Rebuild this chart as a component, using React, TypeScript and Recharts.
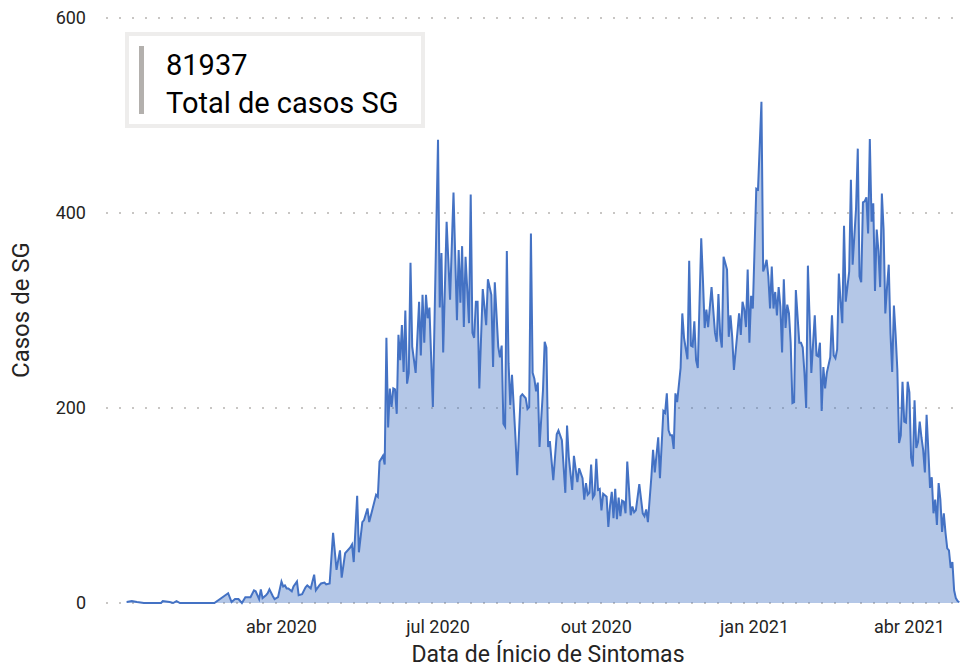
import React from 'react';
import { AreaChart, Area, XAxis, YAxis, CartesianGrid } from 'recharts';

// dias contados a partir de 1 abr 2020
const dias = [
  -90, -87, -84, -80, -70, -69, -65, -63, -61, -59,
  -39, -31, -29, -27, -25, -23, -21, -18, -16, -15,
  -13, -12, -11, -9, -8, -7, -5, -4, -2,
  0, 1, 2, 3, 4, 6, 7, 9, 10, 12,
  14, 15, 17, 19, 20, 22, 23, 25, 26, 28,
  30, 32, 34, 35, 37, 40, 41, 42, 44, 45,
  47, 48, 50, 51, 53, 55, 56, 57, 59, 60,
  61, 62, 63, 64, 65, 66, 67, 68, 69, 70,
  71, 72, 73, 74, 75, 76, 78, 80, 81, 82,
  83, 84, 85, 86, 88, 91, 92, 93, 94, 96,
  98, 100, 102, 103, 104, 105, 106, 107, 109, 110,
  111, 112, 113, 114, 115, 117, 119, 120, 122, 123,
  124, 126, 127, 128, 129, 130, 131, 132, 133, 134,
  136, 137, 139, 140, 142, 143, 144, 145, 146, 147,
  148, 149, 150, 152, 153, 154, 155, 156, 158, 160,
  161, 163, 165, 166, 167, 169, 170, 172, 173, 175,
  176, 177, 178, 179, 180, 181, 182, 183, 184, 185,
  186, 187, 189, 190, 191, 192, 193, 194, 195, 196,
  197, 198, 199, 200, 201, 203, 204, 205, 206, 208,
  210, 211, 212, 213, 215, 216, 217, 219, 220, 222,
  223, 224, 225, 226, 227, 228, 229, 230, 232, 233,
  234, 236, 237, 238, 239, 240, 241, 242, 244, 245,
  246, 247, 248, 250, 252, 253, 254, 255, 256, 257,
  259, 260, 261, 262, 263, 265, 266, 267, 268, 269,
  270, 271, 272, 273, 274, 276, 277, 279, 280, 281,
  282, 283, 284, 285, 286, 287, 288, 289, 290, 291,
  292, 293, 294, 295, 296, 297, 298, 299, 301, 302,
  303, 304, 305, 306, 308, 310, 311, 312, 313, 314,
  315, 316, 317, 319, 320, 321, 322, 323, 324, 325,
  326, 327, 328, 330, 331, 332, 334, 335, 336, 337,
  338, 339, 340, 341, 342, 343, 344, 345, 346, 347,
  348, 349, 350, 351, 352, 353, 354, 355, 356, 357,
  358, 359, 360, 361, 362, 363, 364, 365, 366, 367,
  368, 369, 370, 371, 372, 373, 374, 375, 376, 377,
  378, 379, 380, 381, 382, 383, 384, 385, 386, 387,
  388, 389, 390, 391, 392, 393, 394,
];

const casos = [
  1, 2, 1, 0, 0, 2, 1, 0, 2, 0,
  0, 10, 1, 4, 4, 0, 6, 6, 13, 12,
  4, 14, 5, 8, 10, 14, 7, 4, 6,
  22, 17, 18, 15, 15, 12, 17, 22, 8, 9,
  16, 18, 15, 29, 13, 18, 20, 21, 19, 20,
  72, 34, 54, 26, 51, 57, 60, 42, 110, 52,
  83, 85, 97, 83, 97, 111, 109, 145, 151, 142,
  272, 180, 220, 201, 220, 219, 194, 275, 249, 285,
  237, 300, 225, 236, 349, 263, 236, 309, 254, 316,
  267, 316, 292, 303, 201, 475, 303, 359, 257, 391,
  311, 421, 290, 362, 308, 366, 283, 355, 287, 419,
  277, 272, 309, 309, 220, 322, 285, 332, 316, 242,
  329, 263, 252, 264, 184, 181, 361, 246, 203, 234,
  170, 131, 212, 214, 210, 199, 201, 379, 236, 230,
  217, 226, 160, 218, 268, 262, 160, 166, 126, 173,
  177, 167, 113, 182, 150, 116, 151, 124, 138, 128,
  106, 123, 111, 113, 142, 108, 111, 148, 116, 117,
  95, 112, 109, 78, 100, 114, 87, 117, 86, 108,
  89, 105, 104, 92, 145, 90, 99, 93, 95, 122,
  92, 89, 96, 83, 129, 157, 134, 170, 128, 197,
  195, 215, 177, 172, 172, 158, 215, 206, 241, 297,
  272, 250, 351, 264, 263, 289, 249, 241, 374, 331,
  282, 301, 283, 324, 277, 268, 317, 275, 262, 355,
  342, 273, 295, 273, 239, 277, 297, 275, 309, 301,
  283, 342, 267, 315, 302, 425, 424, 514, 340, 345,
  352, 335, 302, 345, 302, 319, 295, 324, 304, 257,
  332, 282, 306, 297, 267, 205, 206, 321, 267, 267,
  262, 236, 200, 346, 236, 295, 254, 253, 267, 197,
  242, 220, 236, 252, 295, 254, 251, 260, 338, 309,
  287, 387, 309, 340, 434, 347, 405, 466, 335, 329,
  411, 412, 416, 379, 476, 391, 410, 320, 383, 361,
  324, 420, 383, 297, 324, 347, 277, 237, 305, 275,
  239, 164, 172, 227, 186, 185, 227, 216, 149, 140,
  208, 159, 165, 186, 170, 157, 134, 193, 157, 118,
  129, 92, 106, 80, 123, 106, 73, 92, 72, 56,
  54, 36, 42, 13, 5, 2, 1,
];

const xTicks = [0, 91, 183, 275, 365];
const xTickLabels = ['abr 2020', 'jul 2020', 'out 2020', 'jan 2021', 'abr 2021'];
const yTicks = [0, 200, 400, 600];
const totalCasos = 81937;

const data = dias.map((dia, i) => ({ dia, casos: casos[i] }));

const FONT = 'Roboto, sans-serif';
const TEXT = '#252423';
const LINE = '#4472C4';

const App: React.FC = () => {
  return (
    <div style={{ position: 'absolute', left: 0, top: 0, width: 967, height: 670, background: '#fff' }}>
      <AreaChart width={967} height={670} data={data} margin={{ top: 18, right: 6, bottom: 0, left: 0 }}>
        <CartesianGrid vertical={false} stroke="#C8C6C4" strokeWidth={2} strokeDasharray="2 11" />
        <XAxis
          dataKey="dia"
          type="number"
          domain={[-102, 395]}
          ticks={xTicks}
          interval={0}
          tickFormatter={(v: number) => xTickLabels[xTicks.indexOf(v)]}
          axisLine={false}
          tickLine={false}
          tickMargin={11}
          height={67}
          tick={{ fill: TEXT, fontSize: 18, fontFamily: FONT }}
        />
        <YAxis
          domain={[0, 600]}
          ticks={yTicks}
          width={106}
          axisLine={false}
          tickLine={false}
          tickMargin={14}
          tick={{ fill: TEXT, fontSize: 18, fontFamily: FONT }}
        />
        <Area
          type="linear"
          dataKey="casos"
          stroke={LINE}
          strokeWidth={2}
          fill={LINE}
          fillOpacity={0.4}
          dot={false}
          activeDot={false}
          isAnimationActive={false}
        />
      </AreaChart>

      {/* cartão e títulos dos eixos */}
      <svg width={967} height={670} style={{ position: 'absolute', left: 0, top: 0, pointerEvents: 'none' }}>
        <rect x={127} y={34} width={296} height={92} fill="#fff" stroke="#EEEDEC" strokeWidth={4} />
        <rect x={139} y={46} width={5} height={68} fill="#B3B0AD" />
        <text x={166} y={75} fontSize={29} fontFamily={FONT} fill="#000">{totalCasos}</text>
        <text x={166} y={113} fontSize={29} fontFamily={FONT} fill="#000">Total de casos SG</text>
        <text x={548} y={662} fontSize={23} fontFamily={FONT} fill={TEXT} textAnchor="middle">
          Data de Ínicio de Sintomas
        </text>
        <text x={29} y={310} fontSize={24} fontFamily={FONT} fill={TEXT} textAnchor="middle" transform="rotate(-90 29 310)">
          Casos de SG
        </text>
      </svg>
    </div>
  );
};

export default App;
